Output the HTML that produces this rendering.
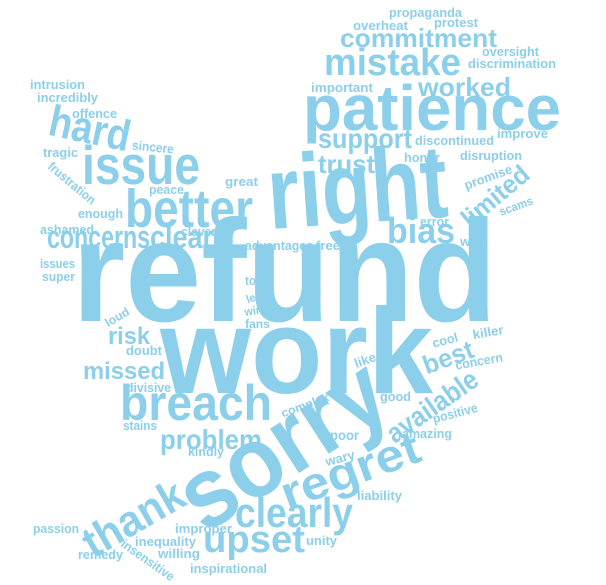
<!DOCTYPE html>
<html><head><meta charset="utf-8"><style>
html,body{margin:0;padding:0;background:#fff;}
svg{display:block;}
text{font-family:"Liberation Sans",sans-serif;font-weight:bold;fill:#8ccfea;}
</style></head><body>
<svg width="606" height="585" viewBox="0 0 606 585">
<g id="w"></g>
</svg>
<script>
// word, fontSize, x(left or center), y(baseline or center), width, rotation, centered
var words=[
["refund",145,72,321,425,0],
["work",122,160,393,273,0],
["right",104,270,229,180,-4,0],
["patience",64,303,130,258,0],
["sorry",100,281,443,228,-33,1],
["issue",55,82,184,118,0],
["better",54,125,227,128,0],
["hard",44,90,128,82,12,1],
["concerns",32,47,248,103,0],
["clear",32,150,248,63,0],
["mistake",38,324,75,137,0],
["commitment",26,340,47,157,0],
["worked",26,418,96,93,0],
["propaganda",13,389,17,73,0],
["overheat",13,353,30,55,0],
["protest",13,434,27,44,0],
["oversight",13,482,56,57,0],
["discrimination",13,468,68,88,0],
["important",13,311,92,62,0],
["support",28,318,148,94,0],
["discontinued",13,415,145,79,0],
["improve",13,497,138,51,0],
["honor",13,404,162,36,0],
["disruption",13,460,160,62,0],
["trust",26,318,173,57,0],
["promise",13,488,177,50,-20,1],
["limited",26,495,196,80,-40,1],
["scams",12,516,206,35,-20,1],
["error",13,420,226,29,0],
["bias",36,387,243,68,0],
["well",13,460,246,25,0],
["advantages",13,245,250,68,0],
["free",13,316,250,24,0],
["intrusion",13,30,89,55,0],
["incredibly",13,37,102,61,0],
["offence",13,72,118,45,0],
["sincere",13,153,147,42,6,1],
["tragic",13,43,157,35,0],
["frustration",13,72,183,58,40,1],
["great",13,225,186,33,0],
["peace",13,149,194,35,0],
["enough",13,78,218,45,0],
["ashamed",13,40,234,54,0],
["clever",13,181,236,35,0],
["issues",13,40,268,35,0],
["super",13,42,281,33,0],
["top",13,245,285,18,0],
["led",12,254,297,16,-20,1],
["loud",12,117,317,26,-30,1],
["win",12,245,316,18,-8,0],
["fans",12,245,328,25,0],
["risk",24,108,344,42,0],
["doubt",13,126,355,36,0],
["missed",24,83,379,82,0],
["divisive",13,126,392,45,0],
["breach",50,120,420,152,0],
["complex",12,305,405,50,-20,1],
["stains",13,123,430,34,0],
["problem",28,160,449,102,0],
["kindly",13,188,456,36,0],
["thank",44,133,518,110,-30,1],
["clearly",42,235,527,118,0],
["regret",46,350,470,145,-20,1],
["upset",38,203,552,102,0],
["passion",13,33,533,46,0],
["improper",13,175,533,57,0],
["inequality",13,135,546,61,0],
["remedy",13,78,559,45,0],
["insensitive",13,148,560,62,35,1],
["willing",13,158,558,42,0],
["inspirational",13,190,573,77,0],
["unity",13,306,545,31,0],
["liability",13,357,500,45,0],
["cool",13,445,340,26,-15,1],
["killer",13,488,332,31,-10,1],
["best",26,448,357,52,-20,1],
["concern",13,479,361,48,-10,1],
["like",13,365,360,22,-20,1],
["available",28,432,406,105,-35,1],
["good",13,380,401,31,0],
["positive",13,455,413,46,-15,1],
["poor",14,330,440,29,0],
["amazing",13,402,438,50,0],
["wary",13,340,458,30,-15,1]
];
var g=document.getElementById('w');
words.forEach(function(d){
  var t=document.createElementNS('http://www.w3.org/2000/svg','text');
  t.textContent=d[0];
  t.setAttribute('font-size',d[1]);
  t.setAttribute('textLength',d[4]);
  t.setAttribute('lengthAdjust','spacingAndGlyphs');
  if(d[6]){
    t.setAttribute('x',0);t.setAttribute('y',0);
    t.setAttribute('text-anchor','middle');
    t.setAttribute('dy','0.35em');
    t.setAttribute('transform','translate('+d[2]+','+d[3]+') rotate('+d[5]+')');
  } else {
    t.setAttribute('x',d[2]);t.setAttribute('y',d[3]);
    if(d[5]) t.setAttribute('transform','rotate('+d[5]+','+d[2]+','+d[3]+')');
  }
  
  
  g.appendChild(t);
});
</script>
</body></html>
